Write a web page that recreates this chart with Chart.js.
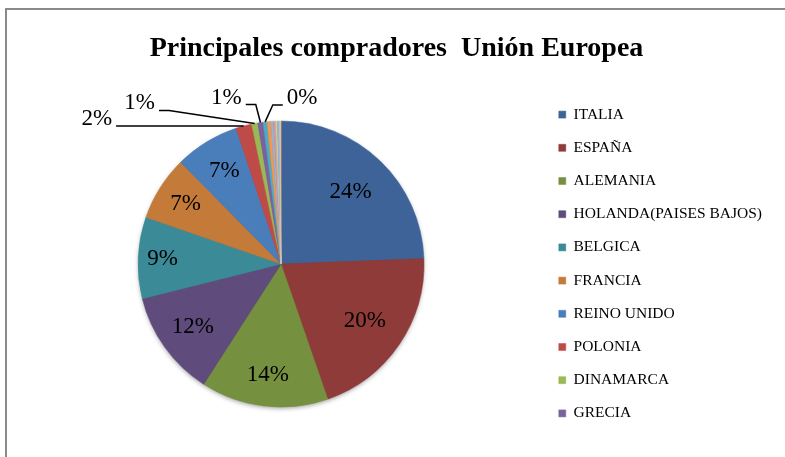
<!DOCTYPE html>
<html>
<head>
<meta charset="utf-8">
<script src="https://cdn.jsdelivr.net/npm/chart.js@4"></script>
<style>
  html, body { margin: 0; padding: 0; background: #fff; overflow: hidden; }
  #frame { position: absolute; left: 5px; top: 8px; width: 800px; height: 470px;
           border-left: 2px solid #8a8a8a; border-top: 2px solid #8a8a8a; }
  #wrap { position: absolute; left: 0; top: 0; width: 785px; height: 457px; }
</style>
</head>
<body>
<div id="frame"></div>
<div id="wrap"><canvas id="pie"></canvas></div>
<script>
// countries shown in the legend (the small ones after GRECIA have no legend entry)
var countries = ['ITALIA', 'ESPAÑA', 'ALEMANIA', 'HOLANDA(PAISES BAJOS)', 'BELGICA',
                 'FRANCIA', 'REINO UNIDO', 'POLONIA', 'DINAMARCA', 'GRECIA'];
// share of each buyer, %
var shares = [24.4, 20.3, 14.4, 12.0, 9.2, 7.3, 7.3, 1.8, 0.7, 0.6,
              0.45, 0.4, 0.3, 0.25, 0.2, 0.15, 0.15, 0.1];
var colors = ['#3d6398', '#8e3b39', '#75903f', '#5f4b7c', '#3a8a98', '#c47a38',
              '#4a7ebb', '#be4b48', '#98b954', '#7d60a0',
              '#4bacc6', '#f79646', '#95b3d7', '#d99694', '#c3d69b', '#b3a2c7', '#93cddd', '#fac090'];

// inside labels: distance from centre as a fraction of the radius
var insideRadius = [0.70, 0.71, 0.78, 0.76, 0.83, 0.79, 0.76];
var labelCount = 11;   // slices that get a % label at all
// where the callout labels sit, relative to the slice edge (px)
var calloutOffsets = [[-147, -7], [-115, -20], [-34, -25], [37, -24]];

// soft shadow under the whole pie
var pieShadow = {
  id: 'pieShadow',
  beforeDatasetsDraw: function (chart) {
    var arc = chart.getDatasetMeta(0).data[0];
    var ctx = chart.ctx;
    ctx.save();
    ctx.shadowColor = 'rgba(0,0,0,0.45)';
    ctx.shadowBlur = 5;
    ctx.shadowOffsetY = 2;
    ctx.fillStyle = '#555';
    ctx.beginPath();
    ctx.arc(arc.x, arc.y, arc.outerRadius - 1, 0, Math.PI * 2);
    ctx.fill();
    ctx.restore();
  }
};

var pctLabels = {
  id: 'pctLabels',
  afterDatasetsDraw: function (chart) {
    var ctx = chart.ctx;
    var meta = chart.getDatasetMeta(0);
    var total = shares.reduce(function (a, b) { return a + b; }, 0);
    ctx.save();
    ctx.font = '23px "Liberation Serif"';
    ctx.fillStyle = '#000';
    ctx.strokeStyle = '#000';
    ctx.lineWidth = 1.5;
    ctx.textAlign = 'center';
    ctx.textBaseline = 'middle';
    meta.data.forEach(function (arc, i) {
      if (i >= labelCount) return;
      var txt = Math.round(shares[i] / total * 100) + '%';
      var mid = (arc.startAngle + arc.endAngle) / 2;
      if (i < insideRadius.length) {
        var r = arc.outerRadius * insideRadius[i];
        ctx.fillText(txt, arc.x + Math.cos(mid) * r, arc.y + Math.sin(mid) * r);
      } else {
        var ex = arc.x + Math.cos(mid) * arc.outerRadius;
        var ey = arc.y + Math.sin(mid) * arc.outerRadius;
        var off = calloutOffsets[i - insideRadius.length];
        var tx = ex + off[0], ty = ey + off[1];
        ctx.fillText(txt, tx, ty);
        var w = ctx.measureText(txt).width;
        var side = off[0] < 0 ? 1 : -1;
        var sx = tx + side * (w / 2 + 4), sy = ty + 7;
        ctx.beginPath();
        ctx.moveTo(sx, sy);
        ctx.lineTo(sx + side * 10, sy);
        ctx.lineTo(ex, ey);
        ctx.stroke();
      }
    });
    ctx.restore();
  }
};

var pie = document.getElementById('pie');
var pieChart = new Chart(pie, {
  type: 'pie',
  data: {
    labels: countries,
    datasets: [{
      data: shares,
      backgroundColor: colors,
      borderColor: colors,
      borderWidth: 0.5,
      radius: 143
    }]
  },
  options: {
    responsive: true,
    maintainAspectRatio: false,
    animation: false,
    layout: { padding: { left: 21, right: 13, top: 0, bottom: 17 } },
    plugins: {
      title: {
        display: true,
        text: 'Principales compradores  Unión Europea',
        color: '#000',
        font: { family: 'Liberation Serif', size: 28, weight: 'bold' },
        padding: { top: 32, bottom: 22.4 }
      },
      legend: {
        position: 'right',
        fullSize: false,
        labels: {
          color: '#000',
          font: { family: 'Liberation Serif', size: 15.5 },
          boxWidth: 7,
          boxHeight: 7,
          padding: 17.7
        }
      },
      tooltip: { enabled: false }
    }
  },
  plugins: [pieShadow, pctLabels]
});
</script>
</body>
</html>
